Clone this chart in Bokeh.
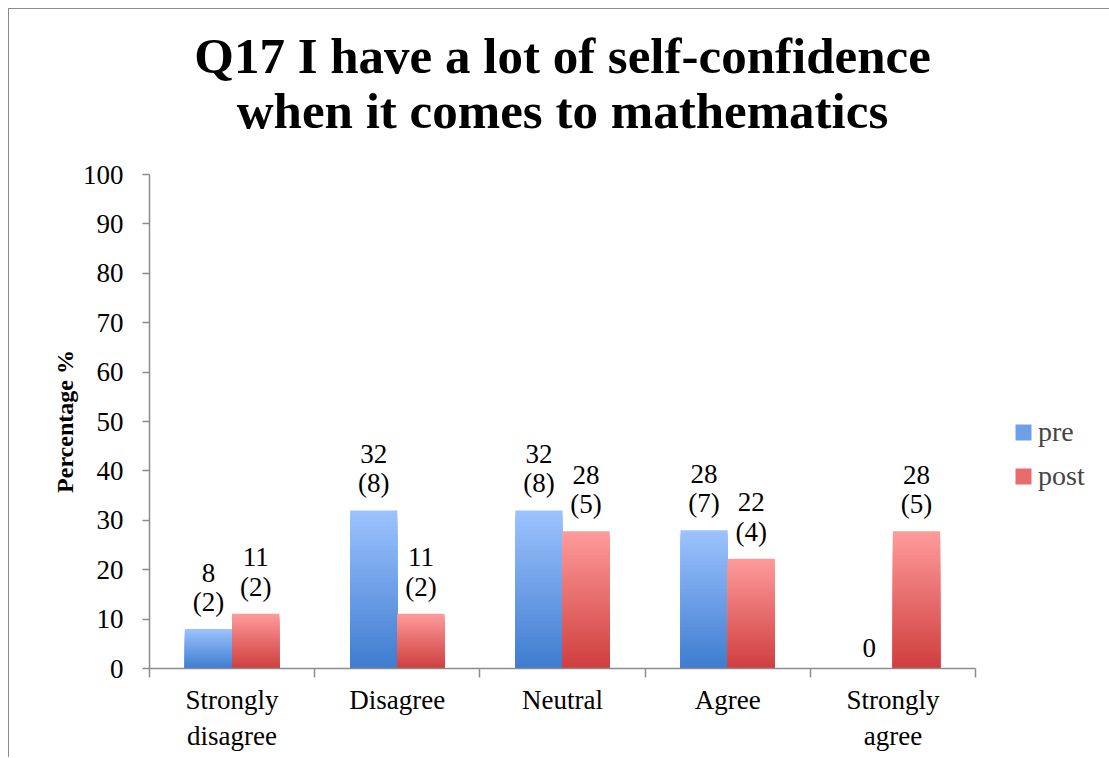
from bokeh.plotting import figure
from bokeh.models import ColumnDataSource, FixedTicker, Legend, LegendItem, Range1d, Title
from bokeh.core.properties import value
from bokeh.embed import file_html
from bokeh.resources import INLINE

# ---- data ----
categories = ["Strongly\ndisagree", "Disagree", "Neutral", "Agree", "Strongly\nagree"]
pre_pct = [8, 32, 32, 28, 0]
pre_n = [2, 8, 8, 7, 0]
post_pct = [11.1, 11.1, 27.8, 22.2, 27.8]
post_n = [2, 2, 5, 4, 5]
y_ticks = [0, 10, 20, 30, 40, 50, 60, 70, 80, 90, 100]
title_lines = ["Q17 I have a lot of self-confidence", "when it comes to mathematics"]

FONT = "Liberation Serif"
BLUE_TOP, BLUE_BOT = (157, 195, 255), (62, 124, 207)
RED_TOP, RED_BOT = (255, 155, 155), (207, 62, 62)
BAR_W = 1 / 3.5
N_SLICES = 40
FS = "27px"


def mix(c1, c2, t):
    return "#%02x%02x%02x" % tuple(int(round(a + (b - a) * t)) for a, b in zip(c1, c2))


p = figure(frame_width=826, frame_height=494, output_backend="svg", toolbar_location=None,
           x_range=Range1d(0, len(categories)), y_range=Range1d(0, 100),
           min_border_left=140, min_border_right=133, min_border_top=165, min_border_bottom=89,
           background_fill_color="white", border_fill_color="white")
p.styles = {"margin-left": "8px", "margin-top": "8px",
            "border-left": "1px solid #8c8c8c", "border-top": "1px solid #8c8c8c"}
p.outline_line_color = None
p.grid.visible = False
p.title.visible = False

# title: two centred lines; a blank spacer keeps them clear of the frame
spacer = Title(text=" ", text_font=FONT, text_font_size="20px", standoff=12)
t2 = Title(text=title_lines[1], text_font=FONT, text_font_size="51px", text_font_style="bold",
           align="center", text_color="black", standoff=0)
t1 = Title(text=title_lines[0], text_font=FONT, text_font_size="51px", text_font_style="bold",
           align="center", text_color="black", standoff=-7)
p.add_layout(spacer, "above")
p.add_layout(t2, "above")
p.add_layout(t1, "above")


def gradient_bars(vals, offset, top_c, bot_c):
    xs, tops, cols = [], [], []
    for k in range(N_SLICES):
        frac = (N_SLICES - k) / N_SLICES
        t = (N_SLICES - k - 0.5) / N_SLICES
        for i, v in enumerate(vals):
            if v <= 0:
                continue
            xs.append(i + 0.5 + offset)
            tops.append(v * frac)
            cols.append(mix(bot_c, top_c, t))
    src = ColumnDataSource(dict(x=xs, top=tops, color=cols))
    p.vbar(x="x", top="top", bottom=0, width=BAR_W, fill_color="color", line_color=None, source=src)


gradient_bars(pre_pct, -BAR_W / 2, BLUE_TOP, BLUE_BOT)
gradient_bars(post_pct, BAR_W / 2, RED_TOP, RED_BOT)

# data labels
lx, ly, lt = [], [], []
for i, (v, n) in enumerate(zip(pre_pct, pre_n)):
    lx.append(i + 0.5 - BAR_W / 2); ly.append(v)
    lt.append(f"{round(v)}\n({n})" if v > 0 else f"{round(v)}")
for i, (v, n) in enumerate(zip(post_pct, post_n)):
    lx.append(i + 0.5 + BAR_W / 2); ly.append(v)
    lt.append(f"{round(v)}\n({n})" if v > 0 else f"{round(v)}")
p.text(x="x", y="y", text="t", source=ColumnDataSource(dict(x=lx, y=ly, t=lt)),
       text_font=value(FONT), text_font_size=FS, text_align="center",
       text_baseline="bottom", y_offset=-12, text_line_height=0.98, text_color="black")

# legend
r_pre = p.vbar(x=[0.5], top=[0], bottom=[0], width=0.01, fill_color=mix(BLUE_BOT, BLUE_TOP, 0.5), line_color=None)
r_post = p.vbar(x=[0.5], top=[0], bottom=[0], width=0.01, fill_color=mix(RED_BOT, RED_TOP, 0.5), line_color=None)
legend = Legend(items=[LegendItem(label="pre", renderers=[r_pre]),
                       LegendItem(label="post", renderers=[r_post])],
                location=(38, 176), border_line_color=None, background_fill_alpha=0,
                label_text_font=FONT, label_text_font_size="28px",
                glyph_width=20, glyph_height=20, label_height=26, spacing=12,
                margin=0, padding=10, label_standoff=5)
p.add_layout(legend, "right")

AX = "#8c8c8c"
# y axis
p.yaxis.ticker = FixedTicker(ticks=y_ticks)
p.yaxis.axis_label = "Percentage %"
p.yaxis.axis_label_text_font = FONT
p.yaxis.axis_label_text_font_size = "24px"
p.yaxis.axis_label_text_font_style = "bold"
p.yaxis.axis_label_text_color = "black"
p.yaxis.axis_label_standoff = 2
p.yaxis.major_label_text_font = FONT
p.yaxis.major_label_text_font_size = FS
p.yaxis.major_label_text_color = "black"
p.yaxis.axis_line_color = AX
p.yaxis.axis_line_width = 1.5
p.yaxis.major_tick_line_color = AX
p.yaxis.major_tick_line_width = 1.5
p.yaxis.major_tick_in = 0
p.yaxis.major_tick_out = 7
p.yaxis.minor_tick_line_color = None
p.yaxis.major_label_standoff = 19

# x axis
centers = [i + 0.5 for i in range(len(categories))]
bounds = list(range(len(categories) + 1))
p.xaxis.ticker = FixedTicker(ticks=centers, minor_ticks=bounds)
p.xaxis.major_label_overrides = {c: lab for c, lab in zip(centers, categories)}
p.xaxis.major_label_text_font = FONT
p.xaxis.major_label_text_font_size = FS
p.xaxis.major_label_text_color = "black"
p.xaxis.major_label_text_line_height = 1.2
p.xaxis.axis_line_color = AX
p.xaxis.axis_line_width = 1.5
p.xaxis.major_tick_line_color = None
p.xaxis.major_tick_in = 0
p.xaxis.major_tick_out = 0
p.xaxis.minor_tick_line_color = AX
p.xaxis.minor_tick_line_width = 1.5
p.xaxis.minor_tick_in = 0
p.xaxis.minor_tick_out = 9
p.xaxis.major_label_standoff = 7

open("out.html", "w").write(file_html(p, INLINE))
